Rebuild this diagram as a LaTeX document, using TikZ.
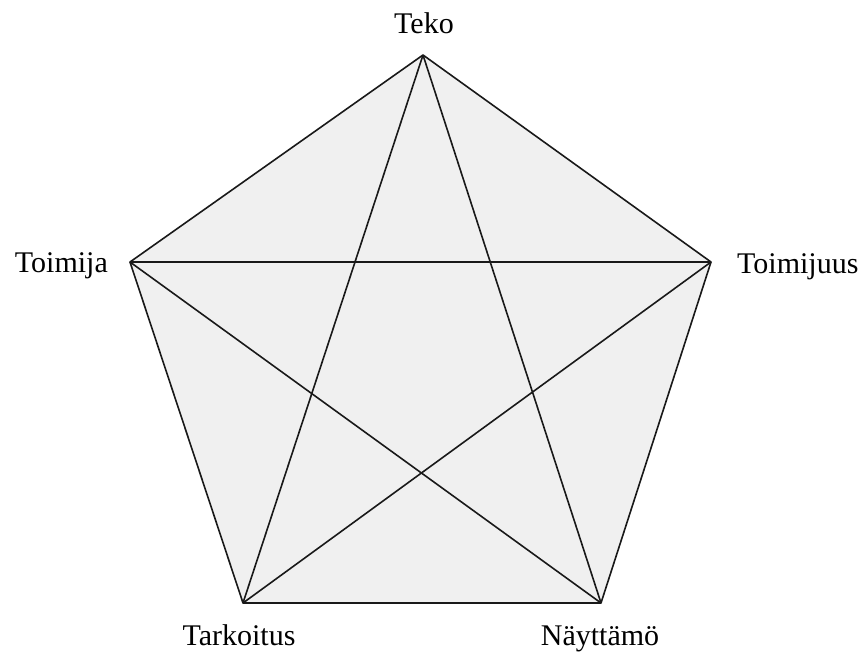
\documentclass[tikz,border=0pt]{standalone}
\usepackage{fontspec}
\setmainfont{Liberation Serif}
\begin{document}
\begin{tikzpicture}[x=1pt,y=-1pt,line join=round]
    \tikzset{
      kulma/.style={font=\fontsize{30}{36}\selectfont,inner sep=0pt},
      sarma/.style={line width=1.6pt,black!90}
    }
    \useasboundingbox (0,0) rectangle (868,653);
    % kulmat
    \coordinate (teko) at (423,55);
    \coordinate (toimija) at (130,262);
    \coordinate (toimijuus) at (711,262);
    \coordinate (tarkoitus) at (243,603);
    \coordinate (nayttamo) at (601,603);
    \fill[black!6] (teko) -- (toimijuus) -- (nayttamo) -- (tarkoitus) -- (toimija) -- cycle;
    % viisikulmio
    \draw[sarma] (teko) -- (toimijuus) -- (nayttamo) -- (tarkoitus) -- (toimija) -- cycle;
    % tähti
    \draw[sarma] (teko) -- (tarkoitus);
    \draw[sarma] (teko) -- (nayttamo);
    \draw[sarma] (toimija) -- (toimijuus);
    \draw[sarma] (toimija) -- (nayttamo);
    \draw[sarma] (toimijuus) -- (tarkoitus);
    % nimet
    \node (lteko) [kulma,anchor=base] at (424,33) {Teko};
    \node (ltoimija) [kulma,anchor=base east] at (108,272) {Toimija};
    \node (ltoimijuus) [kulma,anchor=base west] at (737,273) {Toimijuus};
    \node (ltarkoitus) [kulma,anchor=base] at (239,645) {Tarkoitus};
    \node (lnayttamo) [kulma,anchor=base] at (600,645) {Näyttämö};
\end{tikzpicture}
\end{document}
